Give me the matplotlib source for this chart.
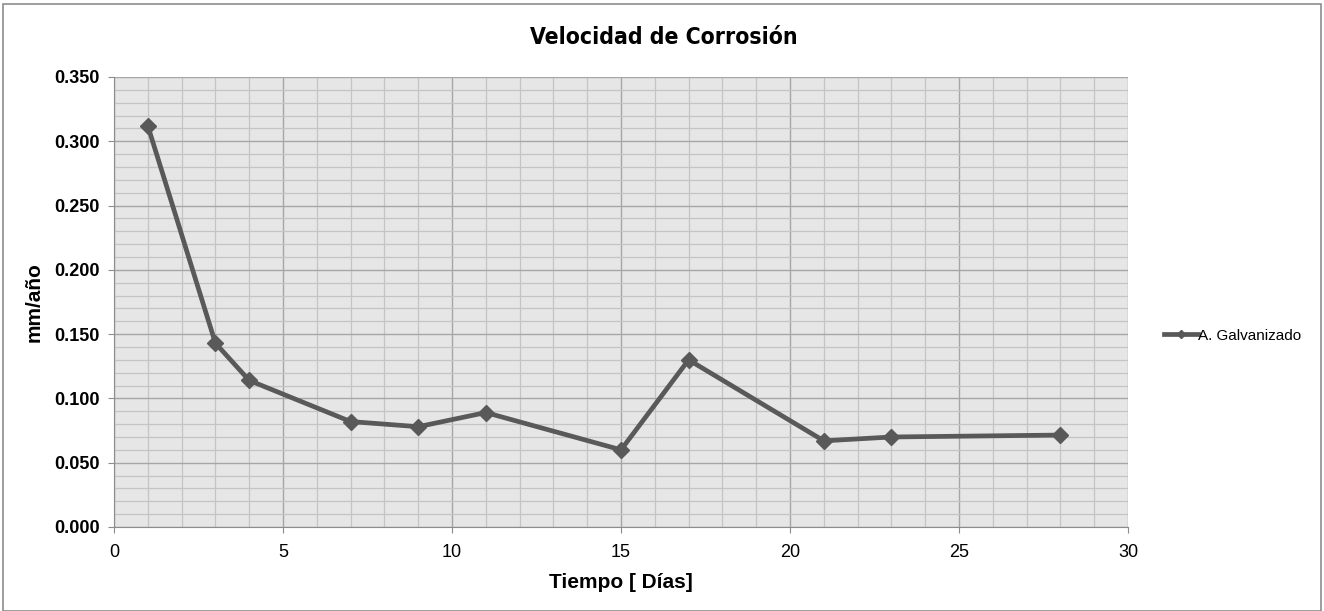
import matplotlib
matplotlib.use('Agg')
import matplotlib.pyplot as plt
from matplotlib.ticker import MultipleLocator, FormatStrFormatter
from matplotlib.patches import Rectangle

# tiempo de exposición (días) y velocidad de corrosión (mm/año)
dias = [1, 3, 4, 7, 9, 11, 15, 17, 21, 23, 28]
velocidad = [0.312, 0.143, 0.114, 0.082, 0.078, 0.089, 0.060, 0.130, 0.067, 0.070, 0.0715]
serie = 'A. Galvanizado'

fig = plt.figure(figsize=(13.24, 6.11), dpi=100)
fig.patches.append(Rectangle((0.002, 0.0), 0.996, 0.994, transform=fig.transFigure,
                             fill=False, edgecolor='#8c8c8c', linewidth=1.2))

ax = fig.add_axes([0.0861, 0.1375, 0.7659, 0.7365])
ax.set_facecolor('#e6e6e6')

ax.plot(dias, velocidad, color='#595959', linewidth=3.4, marker='D',
        markersize=8.5, label=serie)

ax.set_xlim(0, 30)
ax.set_ylim(0, 0.35)
ax.xaxis.set_major_locator(MultipleLocator(5))
ax.xaxis.set_minor_locator(MultipleLocator(1))
ax.yaxis.set_major_locator(MultipleLocator(0.05))
ax.yaxis.set_minor_locator(MultipleLocator(0.01))
ax.yaxis.set_major_formatter(FormatStrFormatter('%.3f'))

ax.grid(True, which='major', color='#a6a6a6', linewidth=1.0)
ax.grid(True, which='minor', color='#c4c4c4', linewidth=0.9)
ax.set_axisbelow(True)

for s in ['top', 'right']:
    ax.spines[s].set_visible(False)
for s in ['left', 'bottom']:
    ax.spines[s].set_color('#8c8c8c')
ax.tick_params(which='major', length=4, color='#8c8c8c', labelsize=13)
ax.tick_params(axis='x', pad=8)
ax.tick_params(axis='y', pad=6)
ax.tick_params(which='minor', length=0)
for lbl in ax.get_yticklabels():
    lbl.set_fontweight('bold')
    lbl.set_family('Liberation Sans')
for lbl in ax.get_xticklabels():
    lbl.set_family('Liberation Sans')

ax.set_xlabel('Tiempo [ Días]', fontsize=15, fontweight='bold', family='Liberation Sans', labelpad=9)
ax.set_ylabel('mm/año', fontsize=15, fontweight='bold', family='Liberation Sans', labelpad=8)
fig.suptitle('Velocidad de Corrosión', x=0.501, y=0.957, fontsize=16.5, fontweight='bold',
             family='DejaVu Sans', fontstretch='condensed')

leg = ax.legend(loc='center left', bbox_to_anchor=(1.022, 0.425), frameon=False,
                prop={'family': 'Liberation Sans', 'size': 11}, handlelength=2.2,
                handletextpad=0.0, markerscale=0.5)

plt.savefig('out.png', dpi=100)
plt.close()
